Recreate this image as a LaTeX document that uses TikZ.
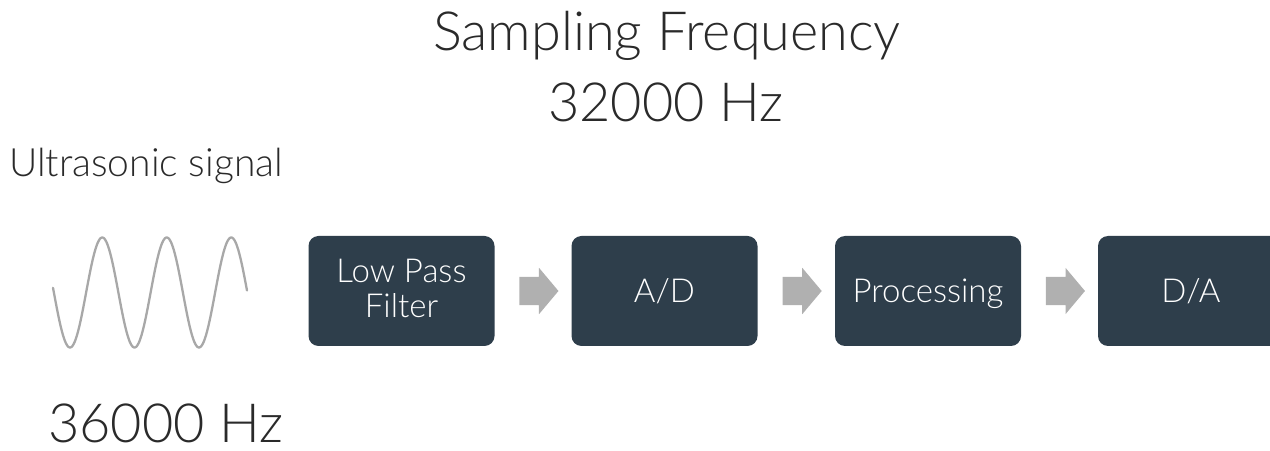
\documentclass[tikz,border=0pt]{standalone}
\usepackage{fontspec}
\setmainfont{Lato}[UprightFont=* Light]
\usetikzlibrary{shapes.arrows,calc}
\definecolor{boxfill}{HTML}{2E3E4B}
\definecolor{arrowgray}{HTML}{B0B0B0}
\definecolor{wavegray}{HTML}{A8A8A8}
\definecolor{ink}{HTML}{2A2A2A}
\tikzset{
  stage/.style={fill=boxfill, rounded corners=10bp, minimum width=186bp,
    minimum height=110bp, inner sep=0pt, text=white, align=center,
    text height=24bp, text depth=0pt,
    font=\fontsize{33bp}{35bp}\selectfont},
  twoline/.style={text height=54bp},
  flow/.style={fill=arrowgray, single arrow, single arrow head extend=9bp,
    single arrow tip angle=100, single arrow head indent=0pt,
    minimum height=39bp, inner xsep=0pt, inner ysep=14bp,
    text height=0pt, text depth=0pt, shape border rotate=0},
  label/.style={text=ink, inner sep=0pt, anchor=base},
}
\begin{document}
\begin{tikzpicture}[x=1bp, y=-1bp]
  \useasboundingbox (0,0) rectangle (1270,451);
  % title
  \node[label, font=\fontsize{54bp}{60bp}\selectfont] (title1) at (667,51) {Sampling Frequency};
  \node[label, font=\fontsize{54bp}{60bp}\selectfont] (title2) at (666,122) {32000 Hz};
  % input signal
  \node[label, anchor=base west, font=\fontsize{39bp}{42bp}\selectfont] (insig) at (9,177) {Ultrasonic signal};
  \node[label, anchor=base west, font=\fontsize{54bp}{58bp}\selectfont] (infreq) at (48,443) {36000 Hz};
  \draw[wavegray, line width=2.3bp, line cap=round, domain=53:247, samples=200, smooth]
    plot (\x, {292.5 + 55*cos(5.5814*(\x-70))});
  % processing chain
  \node[stage, twoline] (lpf) at (401.5,291) {Low Pass\\Filter};
  \node[stage] (ad) at (664.5,291) {A/D};
  \node[stage] (proc) at (928,291) {Processing};
  \node[stage] (da) at (1191,291) {D/A};
  \node[flow] (a1) at ($(lpf.east)!0.5!(ad.west)$) {};
  \node[flow] (a2) at ($(ad.east)!0.5!(proc.west)$) {};
  \node[flow] (a3) at ($(proc.east)!0.5!(da.west)$) {};
\end{tikzpicture}
\end{document}
